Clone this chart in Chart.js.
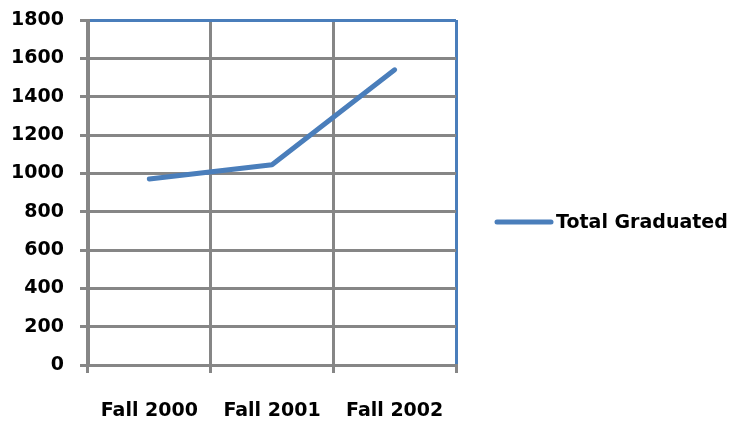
<!DOCTYPE html>
<html>
<head>
<meta charset="utf-8">
<script src="https://cdn.jsdelivr.net/npm/chart.js@4.4.0/dist/chart.umd.min.js"></script>
<style>
  html, body { margin: 0; padding: 0; background: #fff; }
  #wrap { width: 730px; height: 422px; }
</style>
</head>
<body>
<div id="wrap"><canvas id="chart"></canvas></div>
<script>
  const semesters = ["Fall 2000", "Fall 2001", "Fall 2002"];
  const totalGraduated = [970, 1045, 1540];
  const seriesLabel = "Total Graduated";

  const gridGray = "#868686";
  const lineBlue = "#4A7EBB";
  const font = { family: "DejaVu Sans", size: 19, weight: "bold" };

  // legend drawn by hand, Excel style: line sample + text at the right
  const sideLegend = {
    id: "sideLegend",
    afterDraw(chart) {
      const ctx = chart.ctx;
      const ds = chart.data.datasets[0];
      const y = 222;
      ctx.save();
      ctx.strokeStyle = ds.borderColor;
      ctx.lineWidth = 5;
      ctx.lineCap = "round";
      ctx.beginPath();
      ctx.moveTo(497, y);
      ctx.lineTo(551, y);
      ctx.stroke();
      ctx.fillStyle = "#000";
      ctx.font = "bold 19px 'DejaVu Sans'";
      ctx.textBaseline = "middle";
      ctx.fillText(ds.label, 556, y + 1);
      ctx.restore();
    },
  };

  new Chart(document.getElementById("chart"), {
    type: "line",
    data: {
      labels: semesters,
      datasets: [
        {
          label: seriesLabel,
          data: totalGraduated,
          borderColor: lineBlue,
          backgroundColor: lineBlue,
          borderWidth: 5,
          borderCapStyle: "round",
          borderJoinStyle: "round",
          pointRadius: 0,
          tension: 0,
        },
      ],
    },
    options: {
      responsive: true,
      maintainAspectRatio: false,
      animation: false,
      layout: { padding: { left: 0, top: 20, right: 274, bottom: 0 } },
      plugins: { legend: { display: false }, tooltip: { enabled: false } },
      scales: {
        x: {
          offset: true,
          grid: {
            offset: true,
            color: (c) => (c.type === "tick" ? gridGray : lineBlue),
            tickColor: gridGray,
            lineWidth: 3,
            tickLength: 8,
          },
          border: { color: gridGray, width: 3 },
          ticks: { color: "#000", font: font, padding: 27, maxRotation: 0 },
          afterFit: (s) => { s.height = 57; },
        },
        y: {
          min: 0,
          max: 1800,
          grid: {
            color: (c) => (c.tick && c.tick.value === 1800 ? lineBlue : gridGray),
            tickColor: gridGray,
            lineWidth: 3,
            tickLength: 8,
          },
          border: { color: gridGray, width: 3 },
          ticks: { stepSize: 200, color: "#000", font: font, padding: 16, callback: (v) => String(v) },
          afterFit: (s) => { s.width = 88; s.paddingTop = 0; s.paddingBottom = 0; },
        },
      },
    },
    plugins: [sideLegend],
  });
</script>
</body>
</html>
